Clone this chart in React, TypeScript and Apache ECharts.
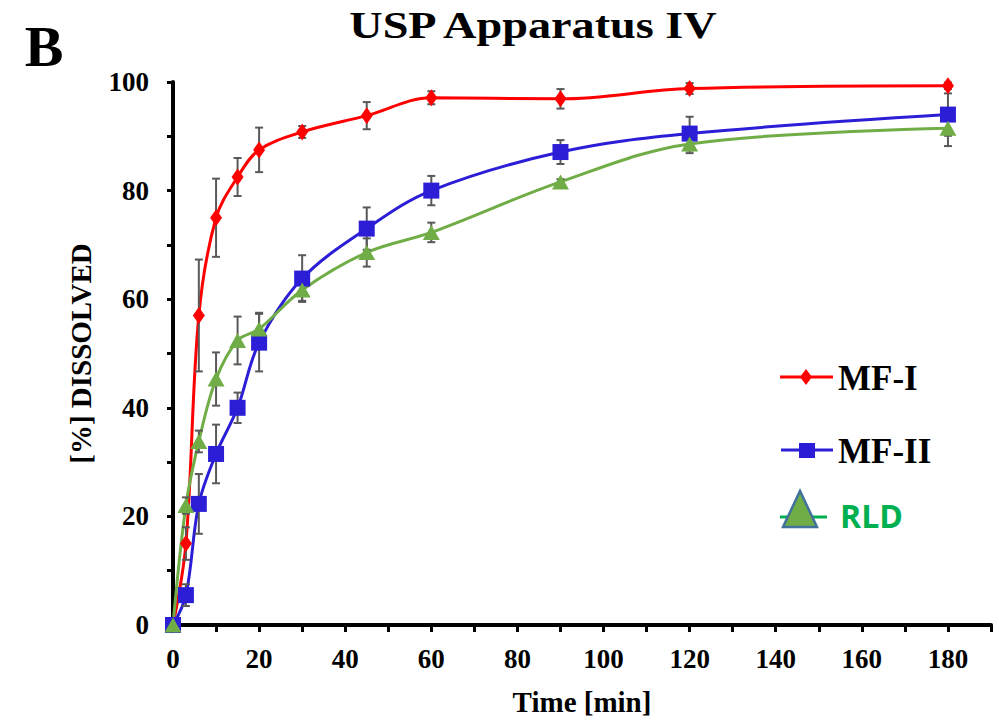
import React, { useEffect, useRef } from "react";
import * as echarts from "echarts";

const times = [0, 3, 6, 10, 15, 20, 30, 45, 60, 90, 120, 180];
const mf1 = [0, 15, 57, 75, 82.5, 87.5, 90.8, 93.8, 97.1, 96.9, 98.8, 99.3];
const mf1Err = [0, 3, 10.3, 7.2, 3.5, 4.1, 1.1, 2.5, 1.2, 1.8, 1, 0.6];
const mf2 = [0, 5.5, 22.3, 31.5, 40, 52, 63.8, 73, 80, 87.1, 90.5, 94];
const mf2Err = [0, 2, 5.5, 5.4, 2.8, 5.3, 4.3, 3.9, 2.7, 2.2, 3.1, 3.9];
const rld = [0, 22, 33.8, 45.3, 52.4, 54.5, 61.7, 68.6, 72.3, 81.6, 88.6, 91.5];
const rldErr = [0, 1.5, 2, 4.9, 4.4, 3, 2, 2.6, 1.8, 0.5, 1.7, 3.3];

const seriesNames = ["MF-I", "MF-II", "RLD"];
const titleText = "USP Apparatus IV";
const panelLabel = "B";
const xName = "Time [min]";
const yName = "[%] DISSOLVED";

const RED = "#FF0000";
const BLUE = "#2B1ED6";
const GREEN = "#70AD47";
const ERR = "#595959";
const SERIF = "Liberation Serif";

function pairs(ys: number[]) {
  return times.map((t, i) => [t, ys[i]]);
}
function triples(ys: number[], es: number[]) {
  return times.map((t, i) => [t, ys[i], es[i]]);
}

function errorSeries(ys: number[], es: number[], z: number) {
  return {
    type: "custom",
    z,
    silent: true,
    encode: { x: 0, y: 1 },
    data: triples(ys, es),
    renderItem: (params: any, api: any) => {
      const x = api.value(0);
      const y = api.value(1);
      const e = api.value(2);
      if (!e) return null;
      const top = api.coord([x, y + e]);
      const bot = api.coord([x, y - e]);
      const hw = 4;
      const st = { stroke: ERR, lineWidth: 2 };
      return {
        type: "group",
        children: [
          { type: "line", shape: { x1: top[0], y1: top[1], x2: bot[0], y2: bot[1] }, style: st },
          { type: "line", shape: { x1: top[0] - hw, y1: top[1], x2: top[0] + hw, y2: top[1] }, style: st },
          { type: "line", shape: { x1: bot[0] - hw, y1: bot[1], x2: bot[0] + hw, y2: bot[1] }, style: st },
        ],
      };
    },
  };
}

function lineSeries(name: string, ys: number[], color: string, z: number) {
  return {
    type: "line",
    name,
    z,
    data: pairs(ys),
    smooth: 0.35,
    showSymbol: false,
    symbol: "none",
    lineStyle: { color, width: 3 },
    itemStyle: { color },
  };
}

function markerSeries(name: string, ys: number[], color: string, symbol: string, size: any, z: number) {
  return {
    type: "scatter",
    name,
    z,
    data: pairs(ys),
    symbol,
    symbolSize: size,
    itemStyle: { color, opacity: 1 },
  };
}

export default function App() {
  const ref = useRef<HTMLDivElement>(null);
  useEffect(() => {
    if (!ref.current) return;
    const chart = echarts.init(ref.current, null, { renderer: "svg" });
    const axisLabelStyle = {
      color: "#000",
      fontFamily: SERIF,
      fontWeight: "bold",
      fontSize: 27,
    };
    chart.setOption({
      animation: false,
      backgroundColor: "#fff",
      grid: { left: 173, right: 8, top: 82, bottom: 96 },
      xAxis: {
        type: "value",
        min: 0,
        max: 190,
        interval: 10,
        name: xName,
        nameLocation: "middle",
        nameGap: 62,
        nameTextStyle: { color: "#000", fontFamily: SERIF, fontWeight: "bold", fontSize: 29 },
        splitLine: { show: false },
        axisLine: { show: true, onZero: false, lineStyle: { color: "#000", width: 4 } },
        axisTick: { show: true, length: 7, lineStyle: { color: "#000", width: 3 } },
        axisLabel: {
          ...axisLabelStyle,
          margin: 20,
          formatter: (v: number) => (v % 20 === 0 ? String(v) : ""),
        },
      },
      yAxis: {
        type: "value",
        min: 0,
        max: 100,
        interval: 10,
        name: yName,
        nameLocation: "middle",
        nameGap: 78,
        nameTextStyle: { color: "#000", fontFamily: SERIF, fontWeight: "bold", fontSize: 29 },
        splitLine: { show: false },
        axisLine: { show: true, onZero: false, lineStyle: { color: "#000", width: 4 } },
        axisTick: { show: true, length: 6, lineStyle: { color: "#000", width: 3 } },
        axisLabel: {
          ...axisLabelStyle,
          margin: 24,
          formatter: (v: number) => (v % 20 === 0 ? String(v) : ""),
        },
      },
      series: [
        lineSeries(seriesNames[0], mf1, RED, 2),
        lineSeries(seriesNames[1], mf2, BLUE, 2),
        lineSeries(seriesNames[2], rld, GREEN, 2),
        errorSeries(mf1, mf1Err, 3),
        errorSeries(mf2, mf2Err, 3),
        errorSeries(rld, rldErr, 3),
        markerSeries(seriesNames[0], mf1, RED, "diamond", [12, 17], 4),
        markerSeries(seriesNames[1], mf2, BLUE, "rect", 16, 4),
        markerSeries(seriesNames[2], rld, GREEN, "triangle", [17, 15], 4),
      ],
      graphic: [
        {
          type: "text",
          x: 533,
          y: 26,
          scaleX: 1.25,
          style: {
            text: titleText,
            fill: "#000",
            fontFamily: SERIF,
            fontWeight: "bold",
            fontSize: 37,
            textAlign: "center",
            textVerticalAlign: "middle",
          },
        },
        {
          type: "text",
          x: 44,
          y: 46,
          style: {
            text: panelLabel,
            fill: "#000",
            fontFamily: SERIF,
            fontWeight: "bold",
            fontSize: 58,
            textAlign: "center",
            textVerticalAlign: "middle",
          },
        },
        // Legend MF-I
        { type: "line", shape: { x1: 780, y1: 377, x2: 833, y2: 377 }, style: { stroke: RED, lineWidth: 3 } },
        {
          type: "polygon",
          shape: { points: [[806, 369], [812, 377], [806, 385], [800, 377]] },
          style: { fill: RED },
        },
        {
          type: "text",
          x: 838,
          y: 378,
          style: { text: seriesNames[0], fill: "#000", fontFamily: SERIF, fontWeight: "bold", fontSize: 35, textAlign: "left", textVerticalAlign: "middle" },
        },
        // Legend MF-II
        { type: "line", shape: { x1: 781, y1: 450, x2: 833, y2: 450 }, style: { stroke: BLUE, lineWidth: 3 } },
        { type: "rect", shape: { x: 799, y: 443, width: 16, height: 15 }, style: { fill: BLUE } },
        {
          type: "text",
          x: 838,
          y: 451,
          style: { text: seriesNames[1], fill: "#000", fontFamily: SERIF, fontWeight: "bold", fontSize: 35, textAlign: "left", textVerticalAlign: "middle" },
        },
        // Legend RLD
        { type: "line", shape: { x1: 780, y1: 517, x2: 793, y2: 517 }, style: { stroke: "#00B050", lineWidth: 3 } },
        { type: "line", shape: { x1: 812, y1: 517, x2: 827, y2: 517 }, style: { stroke: "#00B050", lineWidth: 3 } },
        {
          type: "polygon",
          shape: { points: [[800, 491], [783, 527], [817, 527]] },
          style: { fill: GREEN, stroke: "#41719C", lineWidth: 2.5 },
        },
        {
          type: "text",
          x: 840,
          y: 515,
          style: { text: seriesNames[2], fill: "#00B050", fontFamily: "Open Sans", fontWeight: "bold", fontSize: 32, textAlign: "left", textVerticalAlign: "middle" },
        },
      ],
    });
    return () => chart.dispose();
  }, []);
  return (
    <div
      ref={ref}
      style={{ position: "fixed", left: 0, top: 0, width: 999, height: 721, background: "#fff" }}
    />
  );
}
